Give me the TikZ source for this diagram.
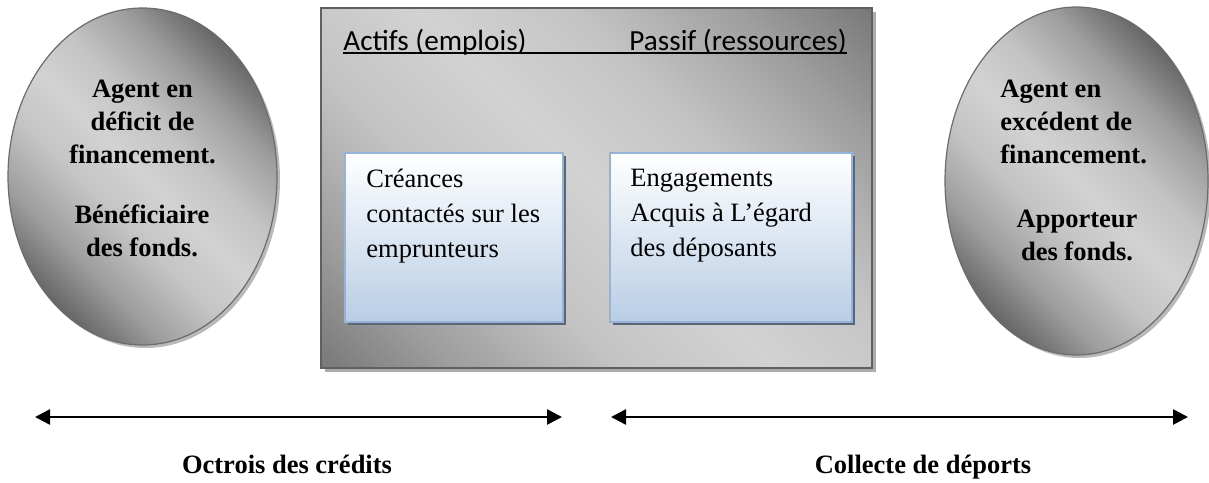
\documentclass[tikz,border=0pt]{standalone}
\usepackage{fontspec}
\setmainfont{Liberation Serif}
\newfontfamily\calibri{Carlito}
\usetikzlibrary{shapes.geometric,shadows,arrows.meta,positioning}
\definecolor{gdark}{HTML}{686868}
\definecolor{gmid}{HTML}{9E9E9E}
\definecolor{gsoft}{HTML}{C4C4C4}
\definecolor{glight}{HTML}{D2D2D2}
\definecolor{boxblue}{HTML}{B9CDE5}
\definecolor{boxline}{HTML}{95B3D7}
\definecolor{boxshadow}{HTML}{5B6577}
\pgfdeclareverticalshading{grisagent}{100bp}{color(0bp)=(gdark); color(25bp)=(gdark);
  color(33bp)=(gmid); color(42bp)=(gsoft); color(50bp)=(glight); color(58bp)=(gsoft);
  color(67bp)=(gmid); color(75bp)=(gdark); color(100bp)=(gdark)}
\pgfdeclareverticalshading{grisbilan}{100bp}{color(0bp)=(gdark); color(10bp)=(gdark);
  color(25bp)=(gmid); color(38bp)=(gsoft); color(50bp)=(glight); color(62bp)=(gsoft);
  color(75bp)=(gmid); color(90bp)=(gdark); color(100bp)=(gdark)}

\begin{document}
\begin{tikzpicture}[x=0.5pt,y=-0.5pt,
  agent/.style={ellipse, draw=gray!85!black, line width=0.6pt, inner sep=0pt,
    shading=grisagent, shading angle=-45,
    drop shadow={shadow xshift=1.5pt, shadow yshift=-1.5pt, fill=gray!55, opacity=1}},
  bilan/.style={rectangle, draw=gray!75!black, line width=0.6pt, inner sep=0pt,
    shading=grisbilan, shading angle=-45,
    drop shadow={shadow xshift=2pt, shadow yshift=-2pt, fill=gray!65, opacity=1}},
  poste/.style={rectangle, draw=boxline, line width=1pt, inner sep=0pt,
    top color=white, bottom color=boxblue,
    drop shadow={shadow xshift=1.5pt, shadow yshift=-1.5pt, fill=boxshadow, opacity=1}},
  txt/.style={inner sep=0pt, font=\fontsize{13.25}{16.5}\selectfont},
  gras/.style={txt, font=\fontsize{13.25}{16.5}\selectfont\bfseries},
  entete/.style={inner sep=0pt, font=\calibri\fontsize{14.6}{17}\selectfont},
  fleche/.style={line width=1.3pt, {Triangle[length=7.5pt,width=7.5pt]}-{Triangle[length=7.5pt,width=7.5pt]}}]
\useasboundingbox (0,0) rectangle (1209,482);

% les deux agents
\node[agent, minimum width=134.5pt, minimum height=168.5pt] (deficit) at (142.5,176.5) {};
\node[agent, minimum width=131.5pt, minimum height=174pt] (excedent) at (1076.5,181) {};
\node[gras, align=center, anchor=north] (deficit-a) at (142.5,80) {Agent en\\déficit de\\financement.};
\node[gras, align=center, anchor=north] (deficit-b) at (142,204) {Bénéficiaire\\des fonds.};
\node[gras, align=left, anchor=north west] (excedent-a) at (1000,80) {Agent en\\excédent de\\financement.};
\node[gras, align=center, anchor=north] (excedent-b) at (1077,210) {Apporteur\\des fonds.};

% le bilan de la banque
\node[bilan, minimum width=275.5pt, minimum height=180pt] (banque) at (596.5,188) {};
\node[entete, anchor=base west] (actifs) at (343,50) {Actifs (emplois)};
\node[entete, anchor=base east] (passif) at (847,50) {Passif (ressources)};
\draw[line width=0.9pt] ([yshift=-1.4pt]actifs.base west) -- ([yshift=-1.4pt]passif.base east);

\node[poste, minimum width=109pt, minimum height=84.5pt] (creances) at (454,237.5) {};
\node[poste, minimum width=121pt, minimum height=84.5pt] (engagements) at (731,237.5) {};
\node[txt, align=left, font=\fontsize{13.25}{17.5}\selectfont, below right=8.5pt and 11pt of creances.north west] (creances-txt) {Créances\\contactés sur les\\emprunteurs};
\node[txt, align=left, font=\fontsize{13.25}{17.5}\selectfont, below right=8.5pt and 10.5pt of engagements.north west] (engagements-txt) {Engagements\\Acquis à L’égard\\des déposants};

% les flux
\coordinate (octroi-g) at (35,417); \coordinate (octroi-d) at (562,417);
\coordinate (collecte-g) at (611,417); \coordinate (collecte-d) at (1188,417);
\draw[fleche] (octroi-g) -- (octroi-d);
\draw[fleche] (collecte-g) -- (collecte-d);
\node[gras, anchor=base] (octroi) at (287,473) {Octrois des crédits};
\node[gras, anchor=base] (collecte) at (923,473) {Collecte de déports};
\end{tikzpicture}
\end{document}
